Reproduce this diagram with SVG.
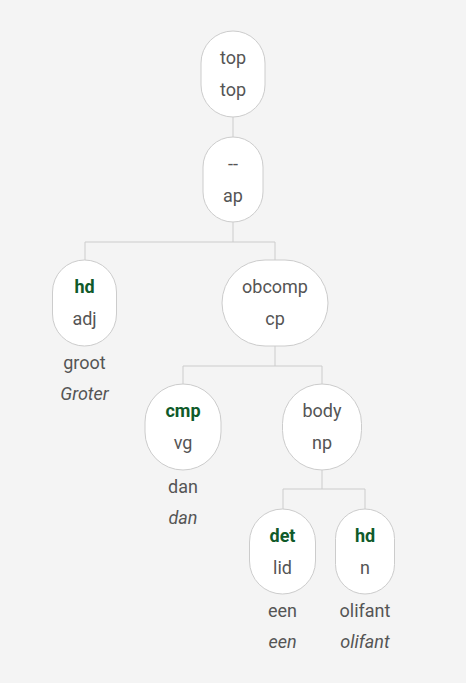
<svg xmlns="http://www.w3.org/2000/svg" width="466" height="683" viewBox="0 0 466 683">
<style>
.bg{fill:#f4f4f4}
.n{fill:#fff;stroke:#cccccc;stroke-width:1}
.e{fill:none;stroke:#cccccc;stroke-width:1}
text{font-family:Roboto,"Liberation Sans",sans-serif;font-size:18px;fill:#555555;text-anchor:middle}
.b{font-weight:bold;fill:#0f5a2a}
.i{font-style:italic}
</style>
<rect class="bg" x="0" y="0" width="466" height="683"/>
<g id="edges">
<path class="e" d="M233 117V137"/>
<path class="e" d="M233 222V242H85V260M233 242H275V260"/>
<path class="e" d="M275 346V366H183V384M275 366H322V384"/>
<path class="e" d="M322 470V489H283V509M322 489H365V509"/>
</g>
<g id="n-top">
<rect class="n" x="201" y="31" width="64" height="86" rx="32"/>
<text x="233" y="64">top</text>
<text x="233" y="96">top</text>
</g>
<g id="n-ap">
<rect class="n" x="203" y="137" width="60" height="85" rx="30"/>
<text x="233" y="170">--</text>
<text x="233" y="202">ap</text>
</g>
<g id="n-hd-adj">
<rect class="n" x="52.5" y="260" width="64" height="86" rx="32"/>
<text class="b" x="84.5" y="293">hd</text>
<text x="84.5" y="325">adj</text>
<text x="84.5" y="369">groot</text>
<text class="i" x="84.5" y="400">Groter</text>
</g>
<g id="n-obcomp">
<rect class="n" x="222" y="260" width="106" height="86" rx="43"/>
<text x="275" y="293">obcomp</text>
<text x="275" y="325">cp</text>
</g>
<g id="n-cmp">
<rect class="n" x="145" y="384" width="76" height="86" rx="38"/>
<text class="b" x="183" y="417">cmp</text>
<text x="183" y="449">vg</text>
<text x="183" y="493">dan</text>
<text class="i" x="183" y="524">dan</text>
</g>
<g id="n-body">
<rect class="n" x="282.5" y="384" width="79" height="86" rx="39.5"/>
<text x="322" y="417">body</text>
<text x="322" y="449">np</text>
</g>
<g id="n-det">
<rect class="n" x="249.5" y="509" width="66" height="85" rx="33"/>
<text class="b" x="282.5" y="542">det</text>
<text x="282.5" y="574">lid</text>
<text x="282.5" y="617">een</text>
<text class="i" x="282.5" y="648">een</text>
</g>
<g id="n-hd-n">
<rect class="n" x="335.5" y="509" width="59" height="85" rx="29.5"/>
<text class="b" x="365" y="542">hd</text>
<text x="365" y="574">n</text>
<text x="365" y="617">olifant</text>
<text class="i" x="365" y="648">olifant</text>
</g>
</svg>
